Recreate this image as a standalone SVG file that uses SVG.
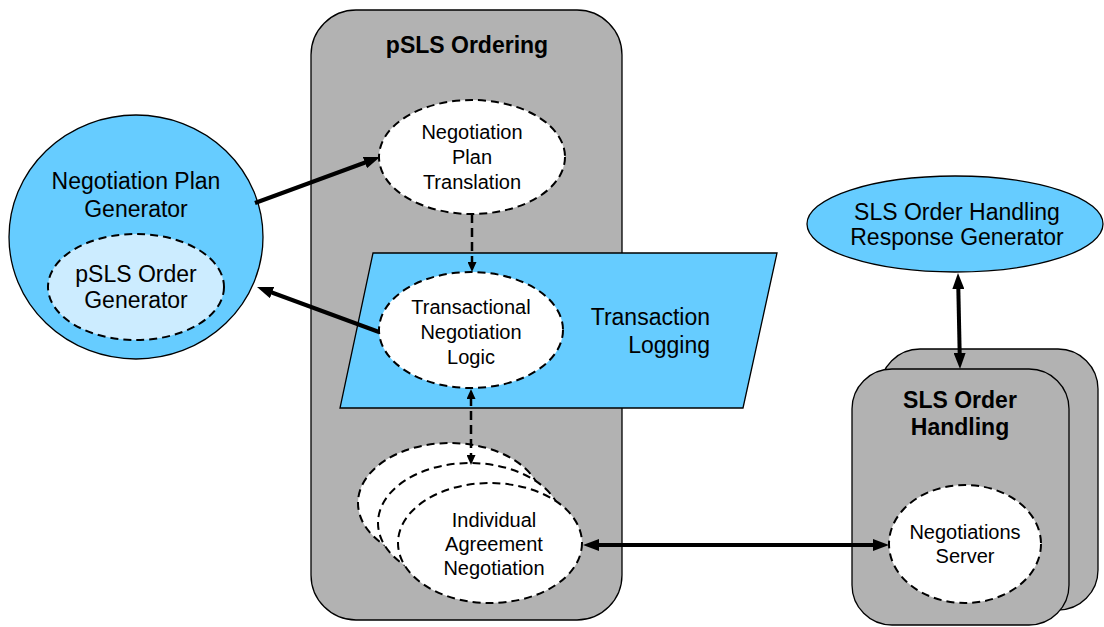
<svg xmlns="http://www.w3.org/2000/svg" width="1104" height="627" viewBox="0 0 1104 627">
  <style>
    text { font-family: "Liberation Sans", Arial, sans-serif; fill: #000; text-anchor: middle; }
    .t20 { font-size: 20px; }
    .t23 { font-size: 23px; }
    .b23 { font-size: 23px; font-weight: bold; }
    .box { fill: #b2b2b2; stroke: #000; stroke-width: 1.3; }
    .blue { fill: #66ccff; stroke: #000; stroke-width: 1.3; }
    .dash { fill: #fff; stroke: #000; stroke-width: 2; stroke-dasharray: 8 5; }
    .solid { fill: none; stroke: #000; stroke-width: 4; }
    .dline { fill: none; stroke: #000; stroke-width: 2.5; stroke-dasharray: 9 5; }
  </style>
  <defs>
    <marker id="big" markerUnits="userSpaceOnUse" markerWidth="16" markerHeight="12" refX="6" refY="6" orient="auto-start-reverse">
      <path d="M0,0 L16,6 L0,12 z" fill="#000"/>
    </marker>
    <marker id="small" markerUnits="userSpaceOnUse" markerWidth="10" markerHeight="9" refX="2" refY="4.5" orient="auto-start-reverse">
      <path d="M0,0 L10,4.5 L0,9 z" fill="#000"/>
    </marker>
  </defs>

  <!-- pSLS Ordering container -->
  <g id="pSLSOrdering">
    <rect class="box" x="311" y="10" width="311" height="610" rx="45" ry="45"/>
    <text class="b23" x="467" y="53">pSLS Ordering</text>
  </g>

  <!-- Transaction Logging parallelogram -->
  <g id="transactionLogging">
    <polygon class="blue" points="373,253 777,253 743,408 340,408"/>
    <text class="t23" x="710" y="325" style="text-anchor:end">Transaction</text>
    <text class="t23" x="710" y="353" style="text-anchor:end">Logging</text>
  </g>

  <!-- SLS Order Handling (stacked) -->
  <g id="slsOrderHandling">
    <rect class="box" x="880" y="349" width="218" height="261" rx="40" ry="40"/>
    <rect class="box" x="852" y="369" width="217" height="256" rx="40" ry="40"/>
    <text class="b23" x="960" y="408">SLS Order</text>
    <text class="b23" x="960" y="435">Handling</text>
  </g>

  <!-- Negotiation Plan Generator -->
  <g id="negotiationPlanGenerator">
    <ellipse class="blue" cx="136" cy="237" rx="127" ry="122"/>
    <text class="t23" x="136" y="189">Negotiation Plan</text>
    <text class="t23" x="136" y="217">Generator</text>
  </g>

  <g id="pSLSOrderGenerator">
    <ellipse class="dash" cx="136" cy="287" rx="88" ry="53" style="fill:#ccecff"/>
    <text class="t23" x="136" y="282">pSLS Order</text>
    <text class="t23" x="136" y="308">Generator</text>
  </g>

  <g id="negotiationPlanTranslation">
    <ellipse class="dash" cx="472" cy="157" rx="93" ry="57"/>
    <text class="t20" x="472" y="139">Negotiation</text>
    <text class="t20" x="472" y="164">Plan</text>
    <text class="t20" x="472" y="189">Translation</text>
  </g>

  <g id="transactionalNegotiationLogic">
    <ellipse class="dash" cx="471" cy="330" rx="92" ry="58"/>
    <text class="t20" x="471" y="314">Transactional</text>
    <text class="t20" x="471" y="339">Negotiation</text>
    <text class="t20" x="471" y="364">Logic</text>
  </g>

  <g id="individualAgreementNegotiation">
    <ellipse class="dash" cx="450" cy="503" rx="92" ry="60"/>
    <ellipse class="dash" cx="470" cy="523" rx="92" ry="60"/>
    <ellipse class="dash" cx="490" cy="543" rx="92" ry="60"/>
    <text class="t20" x="494" y="527">Individual</text>
    <text class="t20" x="494" y="551">Agreement</text>
    <text class="t20" x="494" y="575">Negotiation</text>
  </g>

  <g id="negotiationsServer">
    <ellipse class="dash" cx="965" cy="544" rx="76" ry="59"/>
    <text class="t20" x="965" y="539">Negotiations</text>
    <text class="t20" x="965" y="563">Server</text>
  </g>

  <g id="responseGenerator">
    <ellipse class="blue" cx="955" cy="224" rx="148" ry="48"/>
    <text class="t23" x="957" y="220">SLS Order Handling</text>
    <text class="t23" x="957" y="245">Response Generator</text>
  </g>

  <!-- connectors -->
  <g id="connectors">
    <line class="solid" x1="255" y1="203" x2="370.6" y2="160.5" marker-end="url(#big)"/>
    <line class="solid" x1="379" y1="332" x2="266.4" y2="290.5" marker-end="url(#big)"/>
    <line class="dline" x1="472" y1="214" x2="472" y2="264" marker-end="url(#small)"/>
    <line class="dline" x1="471" y1="397" x2="471" y2="457" marker-start="url(#small)" marker-end="url(#small)"/>
    <line class="solid" x1="593" y1="545" x2="879" y2="545" marker-start="url(#big)" marker-end="url(#big)"/>
    <line class="solid" x1="958.2" y1="283" x2="959.8" y2="359" marker-start="url(#big)" marker-end="url(#big)"/>
  </g>
</svg>
